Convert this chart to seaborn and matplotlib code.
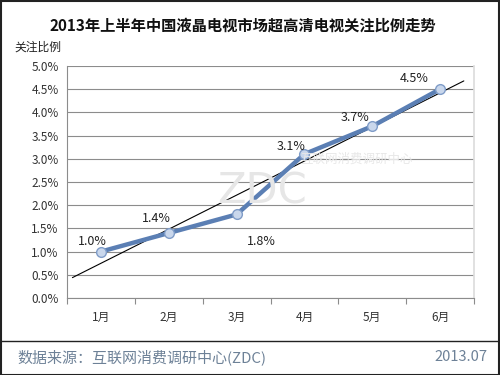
import numpy as np
import pandas as pd
import matplotlib
matplotlib.use("Agg")
import matplotlib.pyplot as plt
import seaborn as sns

months = ["1月", "2月", "3月", "4月", "5月", "6月"]
ratios = [1.0, 1.4, 1.8, 3.1, 3.7, 4.5]
y_ticks = [0.0, 0.5, 1.0, 1.5, 2.0, 2.5, 3.0, 3.5, 4.0, 4.5, 5.0]

sns.set_theme(style="white")
plt.rcParams["font.family"] = ["Noto Sans CJK SC", "DejaVu Sans"]

df = pd.DataFrame({"x": np.arange(len(months)), "ratio": ratios})

fig = plt.figure(figsize=(5, 3.75), dpi=100)
ax = fig.add_axes([0.134, 0.2053, 0.814, 0.619])

# gridlines
for t in y_ticks:
    ax.axhline(t, color="#8c8c8c", lw=0.8, zorder=0)

# linear trend line
k, b = np.polyfit(df["x"], df["ratio"], 1)
tx = np.array([-0.42, 5.35])
ax.plot(tx, k * tx + b, color="black", lw=0.8, zorder=2)

sns.lineplot(data=df, x="x", y="ratio", ax=ax, color="#5b7fb4", lw=3.2,
             marker="o", markersize=7, markerfacecolor="#c9d7ec",
             markeredgecolor="#7f9cc8", markeredgewidth=1.0, zorder=3)

# label offsets in pixels (dx, dy up)
offsets = [(-9, 10), (-12, 15), (25, -27), (-13, 8), (-17, 9), (-26, 11)]
for i, v in enumerate(ratios):
    dx, dy = offsets[i]
    ax.annotate(f"{v:.1f}%", (i, v), xytext=(dx * 0.72, dy * 0.72),
                textcoords="offset points", ha="center", va="center",
                fontsize=9, color="#222222")

ax.set_xlim(-0.5, 5.5)
ax.set_ylim(0, 5.0)
ax.set_yticks(y_ticks)
ax.set_yticklabels([f"{t:.1f}%" for t in y_ticks], fontsize=8.5, color="#333333")
ax.set_xticks(range(len(months)))
ax.set_xticklabels(months, fontsize=8.5, color="#333333")
ax.set_xticks(np.arange(-0.5, 6, 1), minor=True)
ax.tick_params(axis="x", which="major", length=0, pad=9)
ax.tick_params(axis="x", which="minor", length=4, color="#8c8c8c", width=0.8, bottom=True)
ax.tick_params(axis="y", length=0, pad=6)
ax.set_xlabel("")
ax.set_ylabel("")
for s in ["left", "bottom"]:
    ax.spines[s].set_color("#8c8c8c")
    ax.spines[s].set_linewidth(0.8)
ax.spines["top"].set_visible(False)
ax.spines["right"].set_color("#dddddd")

# watermark
fig.text(0.435, 0.49, "ZDC", fontsize=30, color="#e6e6e6", ha="left", va="center",
         family=["DejaVu Sans"], zorder=0)
fig.text(0.6, 0.575, "互联网消费调研中心", fontsize=9, color="#e8e8e8", ha="left",
         va="center", zorder=0)

fig.text(0.485, 0.933, "2013年上半年中国液晶电视市场超高清电视关注比例走势",
         fontsize=11, fontweight="bold", ha="center", va="center", color="#111111")
fig.text(0.028, 0.875, "关注比例", fontsize=8.5, ha="left", va="center", color="#222222")

fig.add_artist(plt.Line2D([0.0, 1.0], [0.091, 0.091], color="#222222", lw=1.0))
fig.text(0.035, 0.048, "数据来源：互联网消费调研中心(ZDC)", fontsize=10.8,
         ha="left", va="center", color="#6d8197")
fig.text(0.975, 0.048, "2013.07", fontsize=10.5, ha="right", va="center", color="#6d8197")

fig.add_artist(plt.Rectangle((0.001, 0.001), 0.997, 0.997, fill=False,
                             edgecolor="#222222", lw=1.5, transform=fig.transFigure))

fig.savefig("out.png", dpi=100)
